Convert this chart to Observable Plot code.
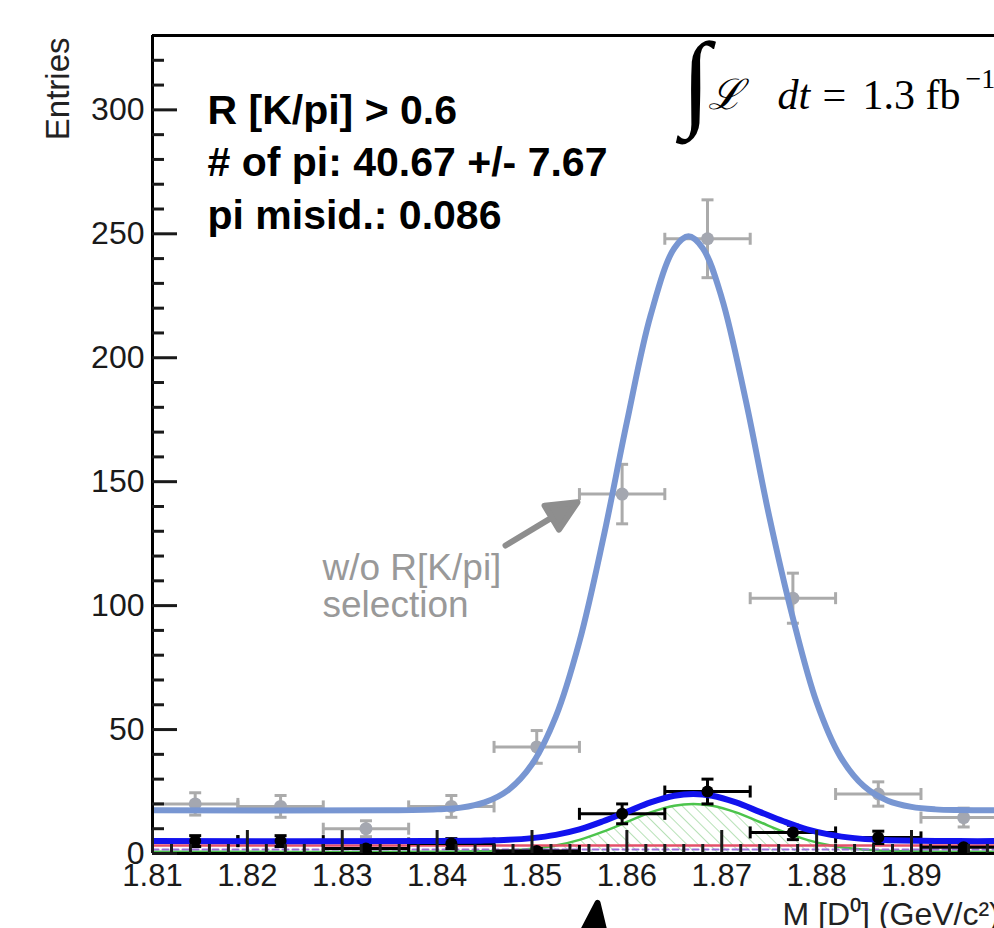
<!DOCTYPE html>
<html><head><meta charset="utf-8">
<script src="https://cdn.jsdelivr.net/npm/d3@7"></script>
<script src="https://cdn.jsdelivr.net/npm/@observablehq/plot@0.6"></script>
<style>html,body{margin:0;padding:0;background:#fff;overflow:hidden;width:994px;height:928px}</style>
</head><body>
<script>
// ---- binned data (M[D0] in GeV/c^2) ----
const binLow    = [1.810,1.819,1.828,1.837,1.846,1.855,1.864,1.873,1.882,1.891];
const binHigh   = [1.819,1.828,1.837,1.846,1.855,1.864,1.873,1.882,1.891,1.900];
const binCenter = [1.8145,1.8235,1.8325,1.8415,1.8505,1.8595,1.8685,1.8775,1.8865,1.8955];
const grayCounts  = [20,19,10,19,43,145,248,103,24,14.5];
const grayErrors  = [4.5,4.4,3.2,4.4,6.6,12.0,15.7,10.1,4.9,3.8];
const blackCounts = [5,5,2,4,1,16,25,8.5,6.5,2.5];
const blackErrors = [2.2,2.2,1.4,2.0,1.0,4.0,5.0,2.9,2.5,1.6];

// ---- fit curves ----
const grayFitX = [1.81,1.835,1.84,1.8425,1.845,1.8475,1.85,1.8525,1.855,1.8575,1.86,1.8625,1.865,1.8665,1.868,1.87,1.8725,1.875,1.8775,1.88,1.8825,1.885,1.8875,1.89,1.8925,1.895,1.9];
const grayFitY = [17.4,17.4,17.8,18.5,20.6,25.6,36.0,55.1,85.5,126.9,174.0,217.1,244.2,249.0,244.2,224.2,183.4,136.1,95,61,39.1,27.1,21.3,18.8,17.8,17.5,17.4];
const blackFitX = [1.81,1.84,1.845,1.8475,1.85,1.8525,1.855,1.8575,1.86,1.8625,1.865,1.867,1.869,1.8715,1.874,1.8765,1.879,1.8815,1.884,1.8865,1.889,1.895,1.9];
const blackFitY = [5,5,5.2,5.5,6.2,7.5,9.7,13.0,16.8,20.6,23.3,24,23.3,20.6,16.8,13.0,9.7,7.5,6.2,5.5,5.2,5,5];
const signalFitY = [0.7,0.7,0.9,1.2,1.9,3.2,5.5,8.8,12.7,16.6,19.3,20,19.3,16.6,12.7,8.8,5.5,3.2,1.9,1.2,0.9,0.7,0.7];
const bkgX = [1.81, 1.9];
const redBkgY = [3.2, 3.2];
const violetBkgY = [1.6, 1.6];

// ---- axes ----
const xDomain = [1.81, 1.89875];
const yDomain = [0, 330];
const xMajor = [1.81,1.82,1.83,1.84,1.85,1.86,1.87,1.88,1.89];
const xMinor = [1.812,1.814,1.816,1.818,1.822,1.824,1.826,1.828,1.832,1.834,1.836,1.838,1.842,1.844,1.846,1.848,1.852,1.854,1.856,1.858,1.862,1.864,1.866,1.868,1.872,1.874,1.876,1.878,1.882,1.884,1.886,1.888,1.892,1.894,1.896,1.898];
const yMajor = [0,50,100,150,200,250,300];
const yMinor = [10,20,30,40,60,70,80,90,110,120,130,140,160,170,180,190,210,220,230,240,260,270,280,290,310,320];

// ---- texts ----
const yTitle = "Entries";
const xTitle = "M [D\u2070] (GeV/c\u00B2)";
const infoLines = ["R [K/pi] > 0.6", "# of pi: 40.67 +/- 7.67", "pi misid.: 0.086"];
const grayNote = ["w/o R[K/pi]", "selection"];
const lumiIntegral = "\u222B";
const lumiL = "\u2112";
const lumiDt = "dt";
const lumiEq = "=";
const lumiValue = "1.3 fb";
const lumiExp = "\u22121";

// tables
const grayData = binCenter.map((x, i) => ({x, lo: binLow[i], hi: binHigh[i], y: grayCounts[i], e: grayErrors[i]}));
const blackData = binCenter.map((x, i) => ({x, lo: binLow[i], hi: binHigh[i], y: blackCounts[i], e: blackErrors[i]}));
const grayFit = grayFitX.map((x, i) => ({x, y: grayFitY[i]}));
const blackFit = blackFitX.map((x, i) => ({x, y: blackFitY[i], s: signalFitY[i]}));
const bkg = bkgX.map((x, i) => ({x, r: redBkgY[i], v: violetBkgY[i]}));

const hbar = {draw(ctx, size) { const r = Math.sqrt(size / Math.PI); ctx.moveTo(-r, 0); ctx.lineTo(r, 0); }};
const vbar = {draw(ctx, size) { const r = Math.sqrt(size / Math.PI); ctx.moveTo(0, -r); ctx.lineTo(0, r); }};
const arrowShape = (hl, hw) => ({draw(ctx, l) {
  ctx.moveTo(0, 0); ctx.lineTo(0, -l + hl);
  ctx.moveTo(-hw, -l + hl); ctx.lineTo(0, -l); ctx.lineTo(hw, -l + hl); ctx.closePath();
}});

function errorMarks(data, color, dotColor) {
  return [
    Plot.ruleY(data, {y: "y", x1: "lo", x2: "hi", stroke: color, strokeWidth: 3, clip: true}),
    Plot.ruleX(data, {x: "x", y1: d => d.y - d.e, y2: d => d.y + d.e, stroke: color, strokeWidth: 3, clip: true}),
    Plot.dot(data, {x: "x", y: d => d.y + d.e, symbol: hbar, r: 6, stroke: color, fill: "none", strokeWidth: 3, clip: true}),
    Plot.dot(data, {x: "x", y: d => d.y - d.e, symbol: hbar, r: 6, stroke: color, fill: "none", strokeWidth: 3, clip: true}),
    Plot.dot(data, {x: "lo", y: "y", symbol: vbar, r: 6, stroke: color, fill: "none", strokeWidth: 3, clip: true}),
    Plot.dot(data, {x: "hi", y: "y", symbol: vbar, r: 6, stroke: color, fill: "none", strokeWidth: 3, clip: true}),
    Plot.dot(data, {x: "x", y: "y", r: 6.5, fill: dotColor, stroke: "none", clip: true})
  ];
}

const gray = "#ababab";
const serif = "Liberation Serif, DejaVu Serif, serif";

const svg = Plot.plot({
  width: 994, height: 928,
  marginLeft: 152, marginRight: 0, marginTop: 35, marginBottom: 75,
  x: {domain: xDomain, axis: null, label: null},
  y: {domain: yDomain, axis: null, label: null},
  style: {fontFamily: "Liberation Sans, Arial, sans-serif", background: "#fff", overflow: "hidden"},
  marks: [
    ...errorMarks(grayData, gray, "#a4a7b0"),
    Plot.line(grayFit, {x: "x", y: "y", curve: "catmull-rom", stroke: "#7896d2", strokeWidth: 6, clip: true}),
    Plot.areaY(blackFit, {x: "x", y1: 0, y2: "s", curve: "catmull-rom", fill: "url(#hatch)", clip: true}),
    Plot.line(blackFit, {x: "x", y: "s", curve: "catmull-rom", stroke: "#4cc44c", strokeWidth: 2.5, clip: true}),
    Plot.line(bkg, {x: "x", y: "v", stroke: "#9a70d8", strokeWidth: 2, strokeDasharray: "6,4", clip: true}),
    Plot.line(bkg, {x: "x", y: "r", stroke: "#e4506a", strokeWidth: 2.5, clip: true}),
    ...errorMarks(blackData, "#000", "#000").slice(0, 6),
    Plot.line(blackFit, {x: "x", y: "y", curve: "catmull-rom", stroke: "#1212ee", strokeWidth: 6, clip: true}),
    Plot.dot(blackData, {x: "x", y: "y", r: 6, fill: "#000", clip: true}),
    // frame
    Plot.ruleX([xDomain[0]], {stroke: "#000", strokeWidth: 3}),
    Plot.ruleY(yDomain, {stroke: "#000", strokeWidth: 3}),
    // axes (ticks inside the frame)
    Plot.axisY(yMajor, {anchor: "left", tickSize: -25, tickPadding: 33, strokeWidth: 3, fontSize: 32, color: "#1a1a1a", label: null}),
    Plot.axisY(yMinor, {anchor: "left", tickSize: -12, tickFormat: () => "", strokeWidth: 3, color: "#1a1a1a", label: null}),
    Plot.axisX(xMajor, {anchor: "bottom", tickSize: -23, tickPadding: 33, strokeWidth: 3, fontSize: 31, color: "#1a1a1a", tickFormat: d3.format(".2f"), label: null}),
    Plot.axisX(xMinor, {anchor: "bottom", tickSize: -9, tickFormat: () => "", strokeWidth: 3, color: "#1a1a1a", label: null}),
    // titles
    Plot.text([yTitle], {text: d => d, frameAnchor: "top-left", dx: -94, dy: 2, rotate: -90, textAnchor: "end", lineAnchor: "middle", fontSize: 33, fill: "#222"}),
    Plot.text([xTitle], {text: d => d, frameAnchor: "bottom-left", dx: 630, dy: 61, textAnchor: "start", lineAnchor: "middle", fontSize: 32, fill: "#222"}),
    // annotations
    Plot.text([infoLines.join("\n")], {text: d => d, frameAnchor: "top-left", dx: 55, dy: 51, textAnchor: "start", lineAnchor: "top", fontSize: 41, fontWeight: "bold", lineHeight: 1.28, fill: "#000"}),
    Plot.text([grayNote.join("\n")], {text: d => d, frameAnchor: "top-left", dx: 170, dy: 551, textAnchor: "start", lineAnchor: "middle", fontSize: 37, lineHeight: 1.0, fill: "#999"}),
    Plot.text([lumiIntegral], {text: d => d, frameAnchor: "top-left", dx: 529, dy: 47, textAnchor: "start", lineAnchor: "middle", fontSize: 106, fontFamily: serif, fill: "#000"}),
    Plot.text([lumiL], {text: d => d, frameAnchor: "top-left", dx: 555, dy: 60, textAnchor: "start", lineAnchor: "middle", fontSize: 42, fontFamily: "DejaVu Serif, serif", fontStyle: "italic", fill: "#000"}),
    Plot.text([lumiDt], {text: d => d, frameAnchor: "top-left", dx: 625, dy: 60, textAnchor: "start", lineAnchor: "middle", fontSize: 42, fontFamily: serif, fontStyle: "italic", fill: "#000"}),
    Plot.text([lumiEq], {text: d => d, frameAnchor: "top-left", dx: 670, dy: 60, textAnchor: "start", lineAnchor: "middle", fontSize: 42, fontFamily: serif, fill: "#000"}),
    Plot.text([lumiValue], {text: d => d, frameAnchor: "top-left", dx: 710, dy: 60, textAnchor: "start", lineAnchor: "middle", fontSize: 42, fontFamily: serif, fill: "#000"}),
    Plot.text([lumiExp], {text: d => d, frameAnchor: "top-left", dx: 813, dy: 44, textAnchor: "start", lineAnchor: "middle", fontSize: 28, fontFamily: serif, fill: "#000"}),
    // arrows
    Plot.vector([0], {frameAnchor: "top-left", dx: 353, dy: 510, length: 84, rotate: 59, anchor: "start", shape: arrowShape(30, 14), stroke: "#8e8e8e", fill: "#8e8e8e", strokeWidth: 6, strokeLinejoin: "round"}),
    Plot.vector([0], {frameAnchor: "bottom-left", dx: 438, dy: 107, length: 58, rotate: 7, anchor: "start", shape: arrowShape(40, 15), stroke: "#000", fill: "#000", strokeWidth: 6, strokeLinejoin: "round"})
  ]
});

d3.select(svg).insert("defs", ":first-child").html(
  '<pattern id="hatch" width="8" height="8" patternUnits="userSpaceOnUse" patternTransform="rotate(-45)">' +
  '<line x1="0" y1="0" x2="0" y2="8" stroke="#8fd08f" stroke-width="1.3"/></pattern>');
document.body.appendChild(svg);
</script>
</body></html>
